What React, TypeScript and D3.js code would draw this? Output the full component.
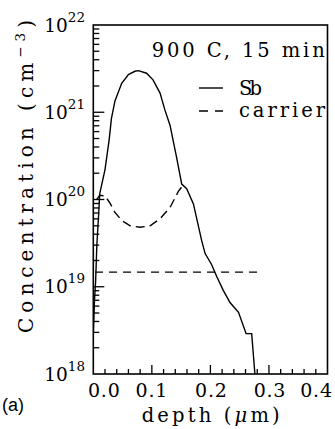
import React from "react";
import * as d3 from "d3";

// Sb concentration profile (depth in µm, concentration in cm^-3)
const sbDepth = [0.0, 0.002, 0.004, 0.006, 0.009, 0.011, 0.02, 0.027, 0.031, 0.037, 0.0485, 0.06, 0.071, 0.077, 0.091, 0.102, 0.114, 0.1225, 0.131, 0.142, 0.151, 0.1595, 0.171, 0.185, 0.191, 0.202, 0.211, 0.222, 0.2335, 0.248, 0.261, 0.2705, 0.276];
const sbConc = [2.75e18, 6.9e18, 1.17e19, 2.95e19, 6.6e19, 1.17e20, 2.2e20, 4.8e20, 8.5e20, 1.35e21, 2.15e21, 2.7e21, 2.95e21, 3.0e21, 2.8e21, 2.35e21, 1.66e21, 1.05e21, 7.1e20, 3.1e20, 1.5e20, 1.33e20, 8.9e19, 3.4e19, 2.4e19, 1.8e19, 1.3e19, 9.1e18, 6.6e18, 5.1e18, 2.9e18, 2.9e18, 1.0e18];

// carrier profile
const carDepth = [0.006, 0.011, 0.02, 0.0285, 0.037, 0.0485, 0.063, 0.08, 0.097, 0.114, 0.131, 0.145, 0.1515];
const carConc = [1.0e20, 1.12e20, 1.1e20, 9.1e19, 7.1e19, 5.75e19, 5.0e19, 4.8e19, 5.0e19, 6.0e19, 8.1e19, 1.23e20, 1.41e20];

// flat carrier level
const flatDepth = [0.003, 0.285];
const flatConc = [1.47e19, 1.47e19];

const xTicks = [0.0, 0.1, 0.2, 0.3, 0.4];
const xTickLabels = ["0.0", "0.1", "0.2", "0.3", "0.4"];
const yDecades = [18, 19, 20, 21, 22];

const legendTitle = "900 C, 15 min";
const legendNames = ["Sb", "carrier"];

const W = 335;
const H = 429;
const M = { left: 93.3, right: 327.5, top: 25, bottom: 374 };

const SERIF = "'DejaVu Serif', serif";

export default function App() {
  const x = d3.scaleLinear().domain([0, 0.4]).range([M.left, M.right]);
  const y = d3.scaleLog().domain([1e18, 1e22]).range([M.bottom, M.top]);

  const line = d3
    .line<[number, number]>()
    .x((d) => x(d[0]))
    .y((d) => y(d[1]));

  const sbPts = sbDepth.map((d, i) => [d, sbConc[i]] as [number, number]);
  const carPts = carDepth.map((d, i) => [d, carConc[i]] as [number, number]);
  const flatPts = flatDepth.map((d, i) => [d, flatConc[i]] as [number, number]);

  const xMinor = d3.range(1, 20).map((i) => i * 0.02).filter((v) => Math.abs(v * 10 - Math.round(v * 10)) > 1e-6);
  const xMajor = xTicks.filter((v) => v > 0 && v < 0.4);

  const yMinor: number[] = [];
  for (let e = 18; e < 22; e++) for (let k = 2; k <= 9; k++) yMinor.push(k * Math.pow(10, e));
  const yMajor = yDecades.filter((e) => e > 18 && e < 22);

  const labelOffsets = [11, 0, 1, 1, -11];

  return (
    <svg
      width={W}
      height={H}
      style={{ position: "absolute", left: 0, top: 0, background: "#fff" }}
    >
      <defs>
        <clipPath id="plot">
          <rect x={M.left} y={M.top} width={M.right - M.left} height={M.bottom - M.top} />
        </clipPath>
      </defs>
      <rect x={0} y={0} width={W} height={H} fill="#fff" />

      {xMinor.map((v, i) => (
        <line key={"xm" + i} x1={x(v)} x2={x(v)} y1={M.bottom} y2={M.bottom - 5} stroke="#000" strokeWidth={1.3} />
      ))}
      {xMajor.map((v, i) => (
        <line key={"xM" + i} x1={x(v)} x2={x(v)} y1={M.bottom} y2={M.bottom - 9} stroke="#000" strokeWidth={1.3} />
      ))}
      {yMinor.map((v, i) => (
        <line key={"ym" + i} x1={M.left} x2={M.left + 6} y1={y(v)} y2={y(v)} stroke="#000" strokeWidth={1.3} />
      ))}
      {yMajor.map((e, i) => (
        <line key={"yM" + i} x1={M.left} x2={M.left + 11} y1={y(Math.pow(10, e))} y2={y(Math.pow(10, e))} stroke="#000" strokeWidth={1.3} />
      ))}

      <rect
        x={M.left}
        y={M.top}
        width={M.right - M.left}
        height={M.bottom - M.top}
        fill="none"
        stroke="#000"
        strokeWidth={1.6}
      />

      <g clipPath="url(#plot)" fill="none" stroke="#000" strokeWidth={1.4}>
        <path d={line(sbPts) || ""} />
        <path d={line(carPts) || ""} strokeDasharray="9,5" />
        <path d={line(flatPts) || ""} strokeDasharray="8,6" />
      </g>

      {xTicks.map((v, i) => (
        <text
          key={"xl" + i}
          x={x(v) + labelOffsets[i]}
          y={396.5}
          textAnchor="middle"
          fontFamily={SERIF}
          fontSize={19}
          letterSpacing={0.8}
        >
          {xTickLabels[i]}
        </text>
      ))}

      {yDecades.map((e) => (
        <text key={"yl" + e} x={85} y={y(Math.pow(10, e)) + 6.5} textAnchor="end" fontFamily={SERIF} fontSize={18.5}>
          <tspan>10</tspan>
          <tspan dy={-10} fontSize={13.5}>{String(e)}</tspan>
        </text>
      ))}

      <text
        x={141.7}
        y={422}
        fontFamily={SERIF}
        fontSize={19.5}
        textLength={138}
        lengthAdjust="spacing"
      >
        depth (<tspan fontStyle="italic">μ</tspan>m)
      </text>
      <text
        transform="translate(33,333) rotate(-90)"
        x={0}
        y={0}
        fontFamily={SERIF}
        fontSize={20}
        textLength={313}
        lengthAdjust="spacing"
      >
        Concentration  (cm<tspan dy={-8} fontSize={13.5}>−3</tspan><tspan dy={8}>)</tspan>
      </text>

      <text x={151.7} y={57} fontFamily={SERIF} fontSize={19.5} textLength={173} lengthAdjust="spacing">
        {legendTitle}
      </text>
      <line x1={199} x2={223} y1={88} y2={88} stroke="#000" strokeWidth={1.4} />
      <text x={239} y={95} fontFamily={SERIF} fontSize={19.5} textLength={23} lengthAdjust="spacing">
        {legendNames[0]}
      </text>
      <line x1={199} x2={223} y1={111} y2={111} stroke="#000" strokeWidth={1.4} strokeDasharray="9,7" />
      <text x={239} y={117} fontFamily={SERIF} fontSize={19.5} textLength={86} lengthAdjust="spacing">
        {legendNames[1]}
      </text>

      <text x={2} y={411} fontFamily="'Liberation Sans', Arial, sans-serif" fontSize={18}>
        (a)
      </text>
    </svg>
  );
}
